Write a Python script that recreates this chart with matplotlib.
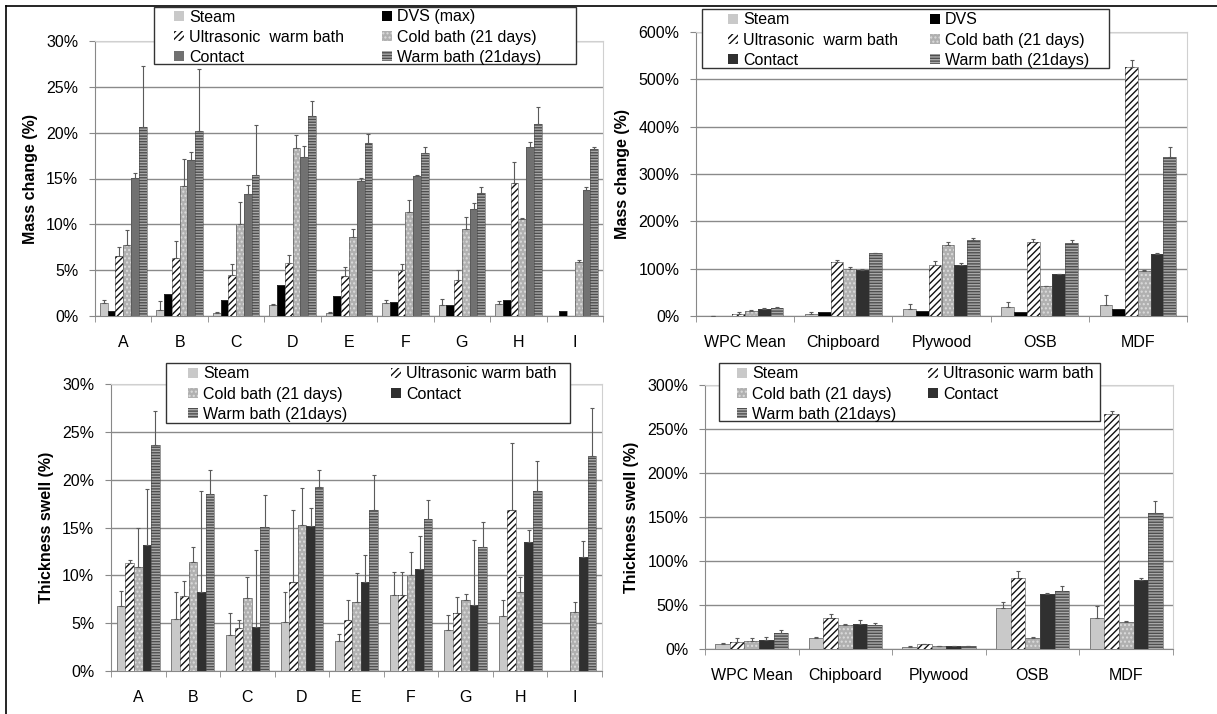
#!/usr/bin/env python3

import numpy as np
import matplotlib
matplotlib.use('Agg')
import matplotlib.pyplot as plt
from matplotlib.patches import Patch, Rectangle
from matplotlib.ticker import FuncFormatter

plt.rcParams['font.family'] = ['Liberation Sans', 'DejaVu Sans']
plt.rcParams['hatch.linewidth'] = 1.0

# --- data ----------------------------------------------------------------

boards = ['A', 'B', 'C', 'D', 'E', 'F', 'G', 'H', 'I']
materials = ['WPC Mean', 'Chipboard', 'Plywood', 'OSB', 'MDF']

# mass change, WPC boards (%)
tl_steam = [1.4, 0.7, 0.3, 1.2, 0.3, 1.4, 1.2, 1.3, 0]
tl_steam_err = [0.3, 0.9, 0.15, 0.15, 0.15, 0.4, 0.65, 0.35, 0]
tl_dvs = [0.6, 2.4, 1.7, 3.4, 2.2, 1.5, 1.2, 1.8, 0.5]
tl_dvs_err = [0, 0, 0, 0, 0, 0, 0, 0, 0]
tl_ultra = [6.5, 6.3, 4.5, 5.8, 4.4, 5.0, 3.9, 14.5, 0]
tl_ultra_err = [1.0, 1.9, 1.2, 0.9, 0.9, 0.65, 1.1, 2.3, 0]
tl_cold = [7.7, 14.2, 10.0, 18.3, 8.6, 11.4, 9.5, 10.6, 5.9]
tl_cold_err = [1.7, 2.9, 2.4, 1.4, 0.9, 1.3, 1.35, 0.1, 0.25]
tl_contact = [15.1, 17.0, 13.3, 17.3, 14.7, 15.3, 11.7, 18.4, 13.8]
tl_contact_err = [0.5, 0.9, 1.0, 1.3, 0.4, 0.1, 0.6, 0.55, 0.3]
tl_warm = [20.6, 20.2, 15.4, 21.8, 18.9, 17.8, 13.4, 21.0, 18.2]
tl_warm_err = [6.7, 6.7, 5.4, 1.7, 1.0, 0.6, 0.65, 1.75, 0.25]

# mass change, other materials (%)
tr_steam = [0.5, 5, 15.5, 20, 22.5]
tr_steam_err = [0.5, 3, 10, 10, 21]
tr_dvs = [1, 8.5, 11, 8.5, 14]
tr_dvs_err = [0, 0, 0, 0, 0]
tr_ultra = [5, 114, 107, 157, 525]
tr_ultra_err = [3, 5, 9, 5, 16]
tr_cold = [10, 100, 149, 63, 96]
tr_cold_err = [3, 3.5, 7, 0.5, 1]
tr_contact = [15, 97, 108.5, 88, 132]
tr_contact_err = [1, 2, 2.5, 1.5, 2]
tr_warm = [17.6, 133, 161, 154, 335]
tr_warm_err = [0.5, 1, 3, 6, 23]

# thickness swell, WPC boards (%)
bl_steam = [6.8, 5.4, 3.8, 5.1, 3.1, 7.9, 4.3, 5.7, 0]
bl_steam_err = [1.6, 2.9, 2.3, 3.2, 0.8, 2.4, 1.6, 1.7, 0]
bl_ultra = [11.3, 7.8, 4.5, 9.3, 5.3, 7.9, 6.1, 16.8, 0]
bl_ultra_err = [0.3, 1.6, 0.8, 7.5, 2.1, 2.4, 1.6, 7.0, 0]
bl_cold = [10.9, 11.4, 7.6, 15.3, 7.2, 10.0, 7.4, 8.3, 6.2]
bl_cold_err = [4.0, 1.6, 2.2, 3.8, 3.0, 2.4, 0.7, 1.5, 1.0]
bl_contact = [13.2, 8.3, 4.6, 15.2, 9.3, 10.7, 6.9, 13.5, 11.9]
bl_contact_err = [5.8, 10.5, 8.1, 1.8, 2.8, 3.4, 6.8, 1.2, 1.7]
bl_warm = [23.6, 18.5, 15.1, 19.2, 16.8, 15.9, 13.0, 18.8, 22.5]
bl_warm_err = [3.6, 2.5, 3.3, 1.8, 3.7, 2.0, 2.6, 3.1, 5.0]

# thickness swell, other materials (%)
br_steam = [5.7, 12.8, 2.6, 47.1, 34.7]
br_steam_err = [0.7, 1.2, 0.3, 6.8, 14.7]
br_ultra = [8.3, 34.7, 5.3, 81.1, 267.4]
br_ultra_err = [3.7, 5.3, 0.7, 7.1, 3.0]
br_cold = [9.0, 27.1, 3.4, 12.8, 30.9]
br_cold_err = [3.0, 0.9, 0.3, 0.3, 0.8]
br_contact = [10.2, 28.3, 3.0, 63.0, 78.0]
br_contact_err = [3.0, 4.1, 0.3, 1.1, 3.0]
br_warm = [17.7, 27.1, 3.4, 65.6, 154.6]
br_warm_err = [4.2, 2.3, 0.3, 5.7, 13.2]

# --- styles ----------------------------------------------------------------

W, H = 1217, 714
FS = 11.5

style = {
	"steam": dict(facecolor='#c9c9c9', hatch=None, hcolor='#c9c9c9'),
	"dvs": dict(facecolor='#000000', hatch=None, hcolor='#000000'),
	"ultra": dict(facecolor='#ffffff', hatch='/////', hcolor='#111111'),
	"cold": dict(facecolor='#b0b0b0', hatch='....', hcolor='#dcdcdc'),
	"contact_lt": dict(facecolor='#717171', hatch=None, hcolor='#717171'),
	"contact": dict(facecolor='#303030', hatch=None, hcolor='#303030'),
	"warm": dict(facecolor='#4e4e4e', hatch='------', hcolor='#a9a9a9'),
}


def fig_rect(x0, y0, x1, y1) :
	# pixel box of the reference -> figure fraction
	return [x0 / W, 1 - y1 / H, (x1 - x0) / W, (y1 - y0) / H]


def pct(v, pos) :
	return "{0:.0f}%".format(v)


def patch_for(key) :
	s = style[key]
	return Patch(facecolor=s["facecolor"], hatch=s["hatch"], edgecolor=s["hcolor"], linewidth=0)


def draw_panel(ax, cats, series, ymax, ystep, ylabel, width) :
	n = len(series)
	x = np.arange(len(cats))
	for k, (key, vals, errs) in enumerate(series) :
		s = style[key]
		pos = x + (k - (n - 1) / 2) * width
		vals = np.array(vals, dtype=float)
		errs = np.array(errs, dtype=float)
		ax.bar(pos, vals, width, color=s["facecolor"], hatch=s["hatch"],
			edgecolor=s["hcolor"], linewidth=0, zorder=3)
		ax.bar(pos, vals, width, fill=False, edgecolor='#4a4a4a', linewidth=0.4, zorder=3)
		has = errs > 0
		if has.any() :
			ax.errorbar(pos[has], vals[has], yerr=[np.zeros(has.sum()), errs[has]],
				fmt='none', ecolor='#5a5a5a', elinewidth=0.8, capsize=1.6, capthick=0.8, zorder=4)
	ax.set_xlim(-0.5, len(cats) - 0.5)
	ax.set_ylim(0, ymax)
	ax.set_yticks(np.arange(0, ymax + ystep / 2, ystep))
	ax.yaxis.set_major_formatter(FuncFormatter(pct))
	ax.set_xticks(x)
	ax.set_xticklabels(cats)
	ax.set_xticks(np.arange(-0.5, len(cats)), minor=True)
	ax.tick_params(axis='x', which='major', length=0, pad=14, labelsize=FS)
	ax.tick_params(axis='x', which='minor', length=4, color='#888888', direction='out')
	ax.tick_params(axis='y', length=4, color='#888888', direction='out', labelsize=FS, pad=8)
	ax.grid(axis='y', color='#8a8a8a', linewidth=1.0, zorder=0)
	ax.set_axisbelow(True)
	for side in ('left', 'bottom') :
		ax.spines[side].set_color('#888888')
	for side in ('top', 'right') :
		ax.spines[side].set_color('#d0d0d0')
	ax.set_ylabel(ylabel, fontsize=FS, fontweight='bold', labelpad=6)


def add_legend(fig, keys, labels, box, col_x, row_y) :
	# white box with a dark edge, then one frameless legend per column,
	# so that the reading order is row by row as in the reference
	x0, y0, x1, y1 = box
	fig.add_artist(Rectangle((x0 / W, 1 - y1 / H), (x1 - x0) / W, (y1 - y0) / H,
		transform=fig.transFigure, facecolor='white', edgecolor='#333333', linewidth=1.0, zorder=4))
	for c, cx in enumerate(col_x) :
		idx = list(range(c, len(keys), 2))
		fig.legend([patch_for(keys[i]) for i in idx], [labels[i] for i in idx],
			loc='upper left', bbox_to_anchor=(cx / W, 1 - (row_y - 6.5) / H),
			frameon=False, borderpad=0, borderaxespad=0, fontsize=FS,
			handlelength=0.6, handleheight=0.6, handletextpad=0.35, labelspacing=0.33)


fig = plt.figure(figsize=(W / 100, H / 100), dpi=100)

ax_tl = fig.add_axes(fig_rect(95, 41, 603, 316))
draw_panel(ax_tl, boards, [
	("steam", tl_steam, tl_steam_err),
	("dvs", tl_dvs, tl_dvs_err),
	("ultra", tl_ultra, tl_ultra_err),
	("cold", tl_cold, tl_cold_err),
	("contact_lt", tl_contact, tl_contact_err),
	("warm", tl_warm, tl_warm_err),
], 30, 5, "Mass change (%)", 0.138)

ax_tr = fig.add_axes(fig_rect(696, 32, 1187, 316))
draw_panel(ax_tr, materials, [
	("steam", tr_steam, tr_steam_err),
	("dvs", tr_dvs, tr_dvs_err),
	("ultra", tr_ultra, tr_ultra_err),
	("cold", tr_cold, tr_cold_err),
	("contact", tr_contact, tr_contact_err),
	("warm", tr_warm, tr_warm_err),
], 600, 100, "Mass change (%)", 0.13)

ax_bl = fig.add_axes(fig_rect(111, 384, 602, 671))
draw_panel(ax_bl, boards, [
	("steam", bl_steam, bl_steam_err),
	("ultra", bl_ultra, bl_ultra_err),
	("cold", bl_cold, bl_cold_err),
	("contact", bl_contact, bl_contact_err),
	("warm", bl_warm, bl_warm_err),
], 30, 5, "Thickness swell (%)", 0.157)

ax_br = fig.add_axes(fig_rect(705, 385, 1173, 649))
draw_panel(ax_br, materials, [
	("steam", br_steam, br_steam_err),
	("ultra", br_ultra, br_ultra_err),
	("cold", br_cold, br_cold_err),
	("contact", br_contact, br_contact_err),
	("warm", br_warm, br_warm_err),
], 300, 50, "Thickness swell (%)", 0.156)

add_legend(fig, ["steam", "dvs", "ultra", "cold", "contact_lt", "warm"],
	["Steam", "DVS (max)", "Ultrasonic  warm bath", "Cold bath (21 days)", "Contact", "Warm bath (21days)"],
	(154, 7, 576, 64), (174, 382), 16)
add_legend(fig, ["steam", "dvs", "ultra", "cold", "contact", "warm"],
	["Steam", "DVS", "Ultrasonic  warm bath", "Cold bath (21 days)", "Contact", "Warm bath (21days)"],
	(702, 9, 1109, 68), (728, 930), 19)
add_legend(fig, ["steam", "ultra", "cold", "contact", "warm"],
	["Steam", "Ultrasonic warm bath", "Cold bath (21 days)", "Contact", "Warm bath (21days)"],
	(166, 363, 570, 423), (188, 391), 373)
add_legend(fig, ["steam", "ultra", "cold", "contact", "warm"],
	["Steam", "Ultrasonic warm bath", "Cold bath (21 days)", "Contact", "Warm bath (21days)"],
	(719, 363, 1100, 421), (737, 928), 373)

# black frame along the left and top edges of the picture
fig.add_artist(plt.Line2D([5.5 / W, 5.5 / W], [0, 1 - 5.5 / H], color='black', linewidth=1.2))
fig.add_artist(plt.Line2D([5.5 / W, 1], [1 - 5.5 / H, 1 - 5.5 / H], color='black', linewidth=1.2))

fig.savefig('out.png', dpi=100)
